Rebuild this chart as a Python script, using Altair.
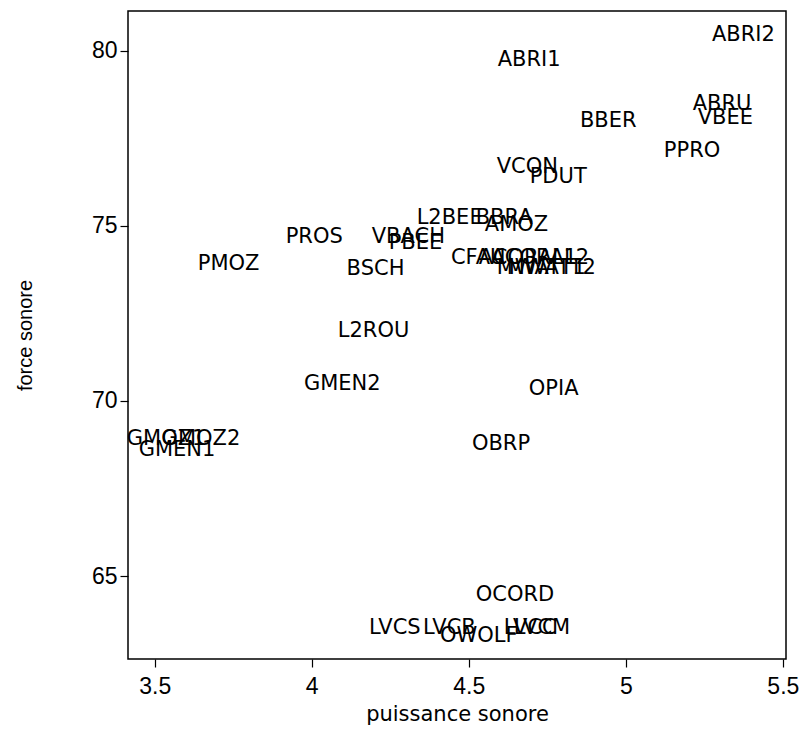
import altair as alt
import pandas as pd

labels = ["ABRI2", "ABRI1", "ABRU", "VBEE", "BBER", "PPRO", "VCON", "PDUT",
          "L2BEE", "BBRA", "AMOZ", "PROS", "VBACH", "PBEE", "PMOZ", "BSCH",
          "CFAU", "ACORAL1", "ACORAL2", "MWATT1", "MWATT2", "L2ROU", "GMEN2",
          "OPIA", "OBRP", "GMOZ1", "GMOZ2", "GMEN1", "OCORD", "LVCS", "LVCB",
          "OWOLF", "LVCC", "LVCM"]
puissance = [5.274, 4.592, 5.213, 5.229, 4.854, 5.121, 4.589, 4.694,
             4.334, 4.522, 4.551, 3.917, 4.191, 4.245, 3.637, 4.111,
             4.443, 4.532, 4.570, 4.589, 4.621, 4.083, 3.975,
             4.691, 4.510, 3.411, 3.522, 3.449, 4.522, 4.182, 4.354,
             4.408, 4.611, 4.643]
force = [80.46, 79.74, 78.49, 78.09, 78.00, 77.14, 76.69, 76.40,
         75.23, 75.23, 75.03, 74.69, 74.69, 74.51, 73.91, 73.77,
         74.09, 74.09, 74.09, 73.80, 73.80, 72.00, 70.49,
         70.34, 68.77, 68.91, 68.91, 68.60, 64.46, 63.51, 63.51,
         63.29, 63.51, 63.51]

x_ticks = [3.5, 4, 4.5, 5, 5.5]
y_ticks = [65, 70, 75, 80]

df = pd.DataFrame({"label": labels, "puissance": puissance, "force": force})

chart = alt.Chart(df).mark_text(
    align="left", baseline="middle", font="DejaVu Sans", fontSize=21, color="black"
).encode(
    x=alt.X("puissance:Q",
            scale=alt.Scale(domain=[3.415, 5.51], nice=False, zero=False),
            axis=alt.Axis(values=x_ticks, format="~g", title="puissance sonore",
                          grid=False, domain=False, tickColor="black", tickSize=8,
                          tickWidth=1.2, labelFont="Liberation Sans", labelFontSize=23,
                          labelColor="black", labelPadding=8,
                          titleFont="DejaVu Sans", titleFontSize=21,
                          titleFontWeight="normal", titleColor="black", titlePadding=5)),
    y=alt.Y("force:Q",
            scale=alt.Scale(domain=[62.63, 81.14], nice=False, zero=False),
            axis=alt.Axis(values=y_ticks, title="force sonore",
                          grid=False, domain=False, tickColor="black", tickSize=8,
                          tickWidth=1.2, labelFont="Liberation Sans", labelFontSize=23,
                          labelColor="black", labelPadding=3,
                          titleFont="Liberation Sans", titleFontSize=20,
                          titleFontWeight="normal", titleColor="black", titlePadding=56)),
    text="label:N",
).properties(
    width=658, height=648,
    autosize=alt.AutoSizeParams(type="none"),
    padding={"left": 120, "top": 3, "right": 13, "bottom": 70},
).configure_view(stroke="black", strokeWidth=1.5)

chart.save("out.html", embed_options={"renderer": "svg", "actions": False})
